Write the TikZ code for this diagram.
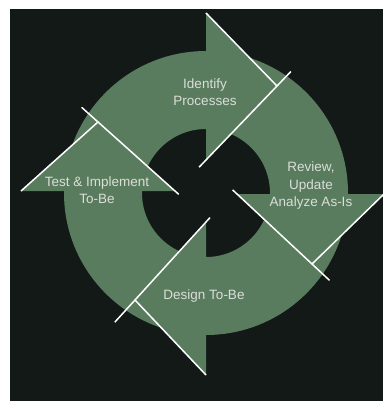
\documentclass[tikz,border=0pt]{standalone}
\usepackage{fontspec}
\setmainfont{Liberation Sans}
\usepackage{xcolor}
\usepackage{tikz}
\usetikzlibrary{calc, positioning}

\definecolor{ringgreen}{RGB}{90,124,94}
\definecolor{bgdark}{RGB}{18,25,23}
\definecolor{labelgray}{RGB}{218,222,216}

\begin{document}
\begin{tikzpicture}[x=1pt, y=-1pt,
    stage/.style={text=labelgray, align=center, font=\fontsize{13.5}{17.5}\selectfont},
    cut/.style={white, line width=1.5pt}]

        \useasboundingbox (0,0) rectangle (383,404);
        \fill[white] (0,0) rectangle (383,404);
        \fill[bgdark] (10,9) rectangle (383,401);

        % ring
        \coordinate (c) at (206,193);
        \fill[ringgreen, even odd rule] (c) circle (142pt) (c) circle (64pt);

        % arrow heads: outer corner, inner corner, tip
        \coordinate (top out) at (206,13);
        \coordinate (top in) at (206,160);
        \coordinate (top tip) at (277,86);
        \coordinate (right out) at (384,194);
        \coordinate (right in) at (237,194);
        \coordinate (right tip) at (312,264);
        \coordinate (bottom out) at (206,375);
        \coordinate (bottom in) at (206,222);
        \coordinate (bottom tip) at (135,300);
        \coordinate (left out) at (21,191);
        \coordinate (left in) at (175,191);
        \coordinate (left tip) at (98,122);

        \fill[ringgreen] (top out) -- (top tip) -- (top in) -- cycle;
        \fill[ringgreen] (right out) -- (right tip) -- (right in) -- cycle;
        \fill[ringgreen] (bottom out) -- (bottom tip) -- (bottom in) -- cycle;
        \fill[ringgreen] (left out) -- (left tip) -- (left in) -- cycle;

        \draw[cut] (top out) -- (top tip);
        \draw[cut] ($(top in)!-10pt!(top tip)$) -- ($(top tip)!-20pt!(top in)$);
        \draw[cut] (right out) -- (right tip);
        \draw[cut] ($(right in)!-6pt!(right tip)$) -- ($(right tip)!-24pt!(right in)$);
        \draw[cut] (bottom out) -- (bottom tip);
        \draw[cut] ($(bottom in)!-6pt!(bottom tip)$) -- ($(bottom tip)!-30pt!(bottom in)$);
        \draw[cut] (left out) -- (left tip);
        \draw[cut] ($(left in)!-5pt!(left tip)$) -- ($(left tip)!-22pt!(left in)$);

        \node[stage] (identify) at (205,92) {Identify\\Processes};
        \node[stage] (review) at (311,186) {Review,\\Update\\Analyze As-Is};
        \node[stage] (design) at (204,296) {Design To-Be};
        \node[stage] (test) at (97,190) {Test \& Implement\\To-Be};

    \end{tikzpicture}
\end{document}
